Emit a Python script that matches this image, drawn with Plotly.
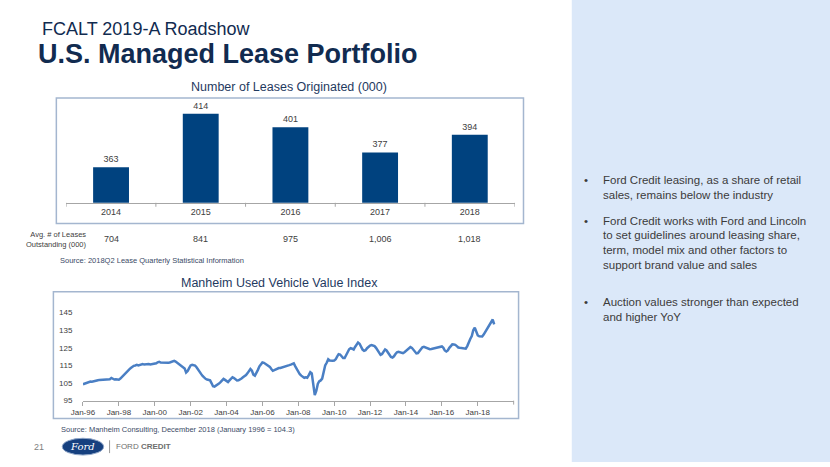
import pandas as pd
import plotly.graph_objects as go

W, H = 830, 467

# ---------------- data ----------------
lease_years = ["2014", "2015", "2016", "2017", "2018"]
leases_originated = [363, 414, 401, 377, 394]
avg_outstanding = ["704", "841", "975", "1,006", "1,018"]

index_start = "1996-01-01"
index_values = [
    104.3, 104.6, 105.0, 105.5, 105.8, 105.9, 105.8, 105.9, 106.0, 106.3, 106.6, 106.8,  # 1996
    106.8, 106.9, 106.8, 106.9, 106.8, 106.9, 107.2, 107.9, 107.3, 107.0, 107.2, 107.0,  # 1997
    106.9, 107.5, 108.3, 109.5, 110.3, 111.5, 112.0, 112.8, 113.5, 114.3, 114.8, 115.0,  # 1998
    115.3, 115.0, 115.4, 115.6, 115.8, 115.5, 115.7, 115.6, 115.8, 115.6, 115.7, 115.8,  # 1999
    115.8, 116.2, 116.8, 117.1, 116.6, 116.5, 116.8, 116.3, 116.2, 116.5, 116.7, 117.0,  # 2000
    117.4, 117.6, 117.2, 116.5, 115.8, 115.0, 114.5, 113.8, 113.2, 111.0, 111.8, 113.5,  # 2001
    115.0, 115.4, 115.2, 114.9, 114.0, 112.5, 111.0, 110.2, 109.0, 108.0, 107.4, 107.0,  # 2002
    106.7, 106.5, 105.0, 103.2, 103.0, 103.5, 104.4, 104.8, 105.5, 106.5, 107.4, 106.8,  # 2003
    106.2, 105.6, 106.5, 107.5, 108.3, 107.8, 107.0, 106.5, 106.6, 107.0, 107.6, 108.3,  # 2004
    108.8, 109.5, 110.5, 112.0, 113.0, 112.0, 109.8, 109.2, 110.5, 112.5, 114.5, 115.8,  # 2005
    116.7, 116.5, 116.0, 115.5, 114.9, 114.2, 113.0, 112.0, 112.3, 112.8, 113.2, 113.5,  # 2006
    113.6, 113.8, 114.0, 114.3, 114.8, 115.0, 115.2, 115.5, 115.8, 116.2, 114.5, 112.8,  # 2007
    111.7, 110.0, 109.2, 108.5, 108.0, 108.3, 108.0, 109.5, 111.2, 110.5, 104.0, 98.2,   # 2008
    100.5, 104.5, 106.0, 106.5, 107.5, 111.5, 115.0, 116.5, 118.5, 117.8, 117.6, 117.7,  # 2009
    117.8, 118.5, 120.0, 121.4, 121.2, 120.0, 119.2, 119.2, 120.5, 122.5, 124.2, 124.8,  # 2010
    124.5, 124.0, 125.5, 127.0, 128.0, 127.3, 125.5, 124.0, 123.3, 123.6, 124.8, 125.8,  # 2011
    126.3, 126.6, 126.5, 126.0, 125.0, 123.5, 122.0, 121.0, 121.5, 122.8, 124.1, 123.5,  # 2012
    122.2, 121.0, 119.8, 119.5, 120.2, 121.5, 122.5, 122.8, 122.5, 122.2, 122.0, 122.5,  # 2013
    123.2, 124.0, 124.9, 125.5, 125.0, 123.8, 122.8, 121.8, 122.0, 123.0, 124.2, 125.3,  # 2014
    125.6, 125.3, 124.8, 124.4, 124.2, 124.3, 124.5, 124.7, 124.8, 125.0, 125.3, 125.7,  # 2015
    125.8, 125.0, 123.5, 122.9, 123.5, 125.0, 126.3, 127.0, 126.9, 126.7, 126.0, 125.2,  # 2016
    125.0, 124.8, 124.7, 124.6, 124.5, 126.0, 128.5, 130.0, 131.7, 135.0, 136.4, 134.0,  # 2017
    132.0, 131.5, 131.3, 131.4, 132.5, 134.0, 135.4, 137.0, 138.3, 140.0, 141.1, 138.3,  # 2018
]
index_ticks = ["1996", "1998", "2000", "2002", "2004", "2006", "2008",
               "2010", "2012", "2014", "2016", "2018"]
index_yticks = [95, 105, 115, 125, 135, 145]

bullets = [
    ["Ford Credit leasing, as a share of retail", "sales, remains below the industry"],
    ["Ford Credit works with Ford and Lincoln", "to set guidelines around leasing share,",
     "term, model mix and other factors to", "support brand value and sales"],
    ["Auction values stronger than expected", "and higher YoY"],
]
bullet_tops = [182, 223, 305]

index_dates = pd.date_range(index_start, periods=len(index_values), freq="MS")
bar_pos = list(range(len(lease_years)))

# ---------------- helpers ----------------
def px(x):
    return x / W

def py(y):
    return 1 - y / H

FONT = "Arial, 'Liberation Sans', sans-serif"
NAVY = "#112b50"
BAR = "#00427f"
LINE = "#4a7fc4"
GRAYTXT = "#404040"
AXIS = "#a6a6a6"
BOX = "#a4b6cf"

fig = go.Figure()

fig.add_trace(go.Bar(
    x=bar_pos, y=leases_originated, width=0.4,
    marker=dict(color=BAR, line=dict(width=0)),
    text=[str(v) for v in leases_originated], textposition="outside",
    textfont=dict(size=9, color=GRAYTXT, family=FONT),
    cliponaxis=False, xaxis="x", yaxis="y", showlegend=False,
))

fig.add_trace(go.Scatter(
    x=index_dates, y=index_values, mode="lines",
    line=dict(color=LINE, width=2.5),
    xaxis="x2", yaxis="y2", showlegend=False,
))

shapes = []
annotations = []

# right panel
shapes.append(dict(type="rect", xref="paper", yref="paper", x0=px(568), x1=1, y0=0, y1=1,
                   fillcolor="#dbe8f9", line=dict(width=0), layer="below"))
# chart boxes
shapes.append(dict(type="rect", xref="paper", yref="paper", x0=px(45), x1=px(519),
                   y0=py(226), y1=py(99), line=dict(color=BOX, width=1.5), layer="below"))
shapes.append(dict(type="rect", xref="paper", yref="paper", x0=px(42), x1=px(514),
                   y0=py(423), y1=py(295), line=dict(color=BOX, width=1.5), layer="below"))
# end tick of line chart axis
shapes.append(dict(type="line", xref="paper", yref="paper", x0=px(509), x1=px(509),
                   y0=py(405), y1=py(409), line=dict(color=AXIS, width=1)))

# titles
annotations.append(dict(text="FCALT 2019-A Roadshow", x=px(28), y=py(29), xref="paper", yref="paper",
                        xanchor="left", yanchor="middle", showarrow=False,
                        font=dict(size=18, color=NAVY, family=FONT)))
annotations.append(dict(text="<b>U.S. Managed Lease Portfolio</b>", x=px(24), y=py(55), xref="paper",
                        yref="paper", xanchor="left", yanchor="middle", showarrow=False,
                        font=dict(size=27, color=NAVY, family=FONT)))
annotations.append(dict(text="Number of Leases Originated (000)", x=px(281), y=py(88), xref="paper",
                        yref="paper", xanchor="center", yanchor="middle", showarrow=False,
                        font=dict(size=12.5, color="#1f3a5f", family=FONT)))
annotations.append(dict(text="Manheim Used Vehicle Value Index", x=px(271), y=py(286), xref="paper",
                        yref="paper", xanchor="center", yanchor="middle", showarrow=False,
                        font=dict(size=12.5, color="#1f3a5f", family=FONT)))

# avg outstanding row
annotations.append(dict(text="Avg. # of Leases<br>Outstanding (000)", x=px(78), y=py(242), xref="paper",
                        yref="paper", xanchor="right", yanchor="middle", align="right",
                        showarrow=False, font=dict(size=7.5, color=GRAYTXT, family=FONT)))
for pos, v in zip(bar_pos, avg_outstanding):
    annotations.append(dict(text=v, x=pos, y=py(242), xref="x", yref="paper", xanchor="center",
                            yanchor="middle", showarrow=False,
                            font=dict(size=9, color=GRAYTXT, family=FONT)))

# sources
annotations.append(dict(text="Source: 2018Q2 Lease Quarterly Statistical Information", x=px(47),
                        y=py(263), xref="paper", yref="paper", xanchor="left", yanchor="middle",
                        showarrow=False, font=dict(size=7.5, color="#3a4a66", family=FONT)))
annotations.append(dict(text="Source: Manheim Consulting, December 2018 (January 1996 = 104.3)",
                        x=px(48), y=py(434), xref="paper", yref="paper", xanchor="left",
                        yanchor="middle", showarrow=False,
                        font=dict(size=7.5, color="#3a4a66", family=FONT)))

# bullets
for lines, top in zip(bullets, bullet_tops):
    annotations.append(dict(text="•", x=px(578), y=py(top), xref="paper", yref="paper",
                            xanchor="left", yanchor="middle", showarrow=False,
                            font=dict(size=11.5, color="#3b3b3b", family=FONT)))
    for i, ln in enumerate(lines):
        annotations.append(dict(text=ln, x=px(598), y=py(top + 15 * i), xref="paper", yref="paper",
                                xanchor="left", yanchor="middle", showarrow=False,
                                font=dict(size=11.5, color="#3b3b3b", family=FONT)))

# footer
annotations.append(dict(text="21", x=px(27), y=py(452), xref="paper", yref="paper", xanchor="center",
                        yanchor="middle", showarrow=False, font=dict(size=9, color="#808080", family=FONT)))
shapes.append(dict(type="circle", xref="paper", yref="paper", x0=px(51), x1=px(93), y0=py(460),
                   y1=py(443), fillcolor="#16407f", line=dict(color="#8fa6c8", width=1)))
annotations.append(dict(text="<i>Ford</i>", x=px(72), y=py(451.5), xref="paper", yref="paper",
                        xanchor="center", yanchor="middle", showarrow=False,
                        font=dict(size=10, color="white", family="'DejaVu Serif', serif")))
shapes.append(dict(type="line", xref="paper", yref="paper", x0=px(99), x1=px(99), y0=py(445),
                   y1=py(458), line=dict(color="#9a9a9a", width=1)))
annotations.append(dict(text="FORD <b>CREDIT</b>", x=px(104), y=py(451.5), xref="paper", yref="paper",
                        xanchor="left", yanchor="middle", showarrow=False,
                        font=dict(size=8, color="#6e6e6e", family=FONT)))

fig.update_layout(
    width=W, height=H, margin=dict(l=0, r=0, t=0, b=0),
    paper_bgcolor="white", plot_bgcolor="rgba(0,0,0,0)",
    font=dict(family=FONT),
    xaxis=dict(domain=[px(55), px(510)], range=[-0.5, 4.5], tickmode="array",
               tickvals=bar_pos, ticktext=lease_years,
               ticks="", showline=True, linecolor=AXIS,
               linewidth=1, showgrid=False, zeroline=False,
               tickfont=dict(size=9, color=GRAYTXT, family=FONT)),
    yaxis=dict(domain=[py(205), py(99)], range=[329, 429], visible=False, showgrid=False),
    xaxis2=dict(domain=[px(72), px(509)], anchor="y2", type="date",
                range=["1996-01-01", "2020-01-01"],
                tickvals=[f"{y}-01-01" for y in index_ticks], tickformat="%b-%y",
                ticks="outside", ticklen=4, tickcolor=AXIS, showline=True, linecolor=AXIS,
                linewidth=1, showgrid=False, zeroline=False,
                tickfont=dict(size=8, color=GRAYTXT, family=FONT)),
    yaxis2=dict(domain=[py(405), py(298.2)], anchor="x2", range=[95, 155], tickvals=index_yticks,
                showgrid=False, zeroline=False, showline=False, ticks="outside", ticklen=8,
                tickcolor="rgba(0,0,0,0)", tickfont=dict(size=8, color=GRAYTXT, family=FONT)),
    shapes=shapes, annotations=annotations,
)

# category boundary ticks for the bar axis (drawn from the axis positions)
for b in [p - 0.5 for p in bar_pos] + [bar_pos[-1] + 0.5]:
    fig.add_shape(type="line", xref="x", yref="paper", x0=b, x1=b, y0=py(205), y1=py(209),
                  line=dict(color=AXIS, width=1))

fig.write_html("out.html")
